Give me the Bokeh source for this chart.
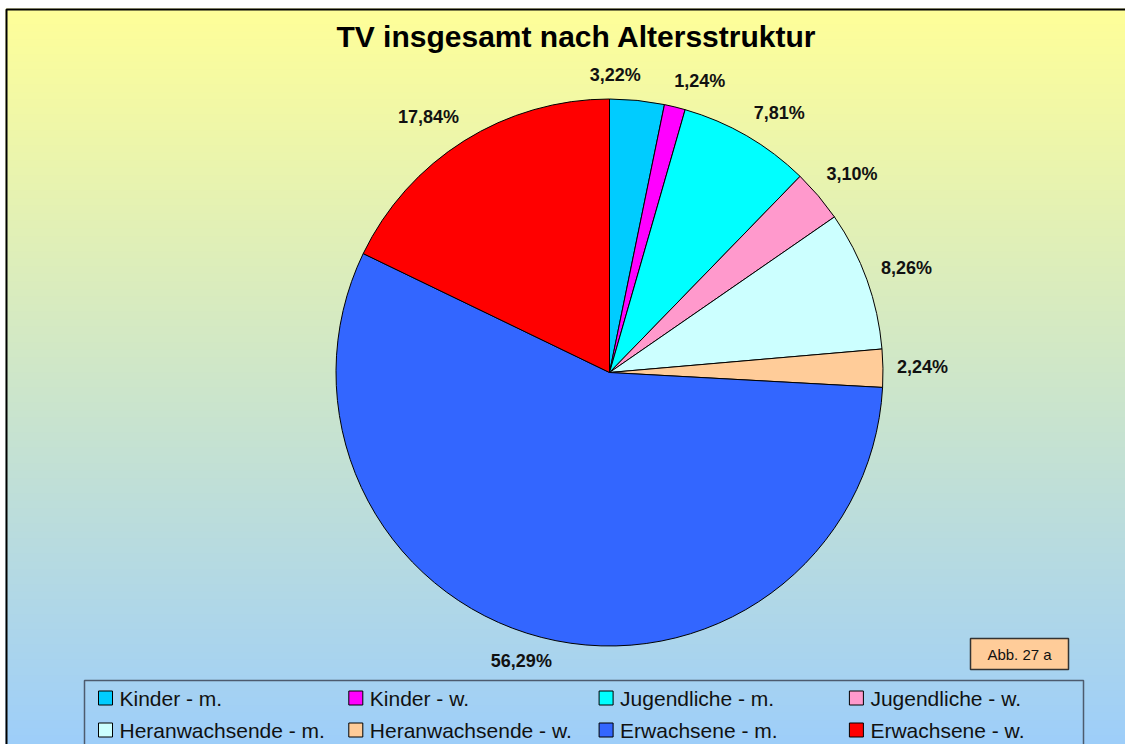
import numpy as np
from bokeh.plotting import figure
from bokeh.models import ColumnDataSource, Range1d
from bokeh.core.properties import value
from bokeh.embed import file_html
from bokeh.resources import INLINE

# ---------------- data ----------------
title = "TV insgesamt nach Altersstruktur"
categories = ["Kinder - m.", "Kinder - w.", "Jugendliche - m.", "Jugendliche - w.",
              "Heranwachsende - m.", "Heranwachsende - w.", "Erwachsene - m.", "Erwachsene - w."]
shares = [3.22, 1.24, 7.81, 3.10, 8.26, 2.24, 56.29, 17.84]
colors = ["#00CCFF", "#FF00FF", "#00FFFF", "#FF99CC",
          "#CCFFFF", "#FFCC99", "#3366FF", "#FF0000"]
note = "Abb. 27 a"

# ---------------- layout / style ----------------
FONT = value("Liberation Sans")
W, H = 1125, 744
def sy(v):  # screen y -> data y
    return H - v

FX, FY = 5, 8   # chart area top-left corner (screen)
cx, cy, R = 609, sy(372), 273.5
label_nudge_deg = [-4.7, 3.5, 3.3, 1.2, 0.7, 0.35, 2.4, -3.4]
label_font_px = 18
label_lift = 2

p = figure(width=W, height=H, x_range=Range1d(0, W), y_range=Range1d(0, H),
           output_backend="svg", toolbar_location=None, min_border=0,
           x_axis_location=None, y_axis_location=None)
p.grid.visible = False
p.outline_line_color = None
p.background_fill_color = "white"
p.border_fill_color = "white"

# background gradient (yellow -> light blue)
top_c = np.array([255, 255, 153], dtype=float)
bot_c = np.array([153, 204, 255], dtype=float)
GH = H - FY
rows = np.arange(GH)
screen_y = FY + (GH - 1 - rows)
t = np.clip((screen_y - FY) / (780 - FY), 0, 1)[:, None]
rgb = top_c * (1 - t) + bot_c * t
img = np.empty((GH, 1), dtype=np.uint32)
view = img.view(dtype=np.uint8).reshape((GH, 1, 4))
view[:, 0, 0] = rgb[:, 0].astype(np.uint8)
view[:, 0, 1] = rgb[:, 1].astype(np.uint8)
view[:, 0, 2] = rgb[:, 2].astype(np.uint8)
view[:, 0, 3] = 255
p.image_rgba(image=[img], x=FX, y=0, dw=W - FX, dh=GH)

# frame (left and top)
p.line(x=[FX + 1, FX + 1, W + 2], y=[0, sy(FY + 1), sy(FY + 1)], line_color="black", line_width=2)

# ---------------- pie ----------------
vals = np.array(shares)
cum = np.concatenate([[0], np.cumsum(vals)]) / vals.sum()
start = np.pi / 2 - 2 * np.pi * cum[:-1]
end = np.pi / 2 - 2 * np.pi * cum[1:]
src = ColumnDataSource(dict(start=start, end=end, color=colors, cat=categories))
p.wedge(x=cx, y=cy, radius=R, start_angle="start", end_angle="end", direction="clock",
        fill_color="color", line_color="black", line_width=1, source=src)

# labels
lbls = [f"{v:.2f}".replace(".", ",") + "%" for v in shares]
mid = (cum[:-1] + cum[1:]) / 2 * 360 + np.array(label_nudge_deg)
th = np.radians(mid)
hw = np.array([0.5 * label_font_px * (0.556 * (len(s) - 2) + 0.278 + 0.889) for s in lbls])
hh = 8
dist = R + 14 + hw * np.abs(np.sin(th)) + hh * np.abs(np.cos(th))
lx = cx + dist * np.sin(th)
ly = cy + dist * np.cos(th) + label_lift
p.text(x=lx, y=ly, text=lbls, text_font=FONT, text_font_style="bold",
       text_font_size=f"{label_font_px}px", text_align="center", text_baseline="middle",
       text_color="#111111")

# title
p.text(x=[576], y=[sy(36)], text=[title], text_font=FONT, text_font_style="bold",
       text_font_size="30px", text_align="center", text_baseline="middle", text_color="black")

# ---------------- legend ----------------
p.quad(left=84, right=1083, top=sy(680), bottom=-20, fill_color=None,
       line_color="#4D5B6E", line_width=1.5)
col_x0, col_pitch = 98, 250.3
row_y = [697.5, 729.5]
sw_x = [col_x0 + (i % 4) * col_pitch for i in range(len(categories))]
sw_y = [sy(row_y[i // 4]) for i in range(len(categories))]
p.rect(x=[x + 7 for x in sw_x], y=sw_y, width=14, height=14, fill_color=colors,
       line_color="black", line_width=1)
p.text(x=[x + 21 for x in sw_x], y=sw_y, text=categories, text_font=FONT,
       text_font_size="21px", text_align="left", text_baseline="middle", text_color="#111111")

# note box
p.quad(left=970, right=1068, top=sy(638), bottom=sy(669), fill_color="#FFCC99",
       line_color="#333333", line_width=1.5)
p.text(x=[1019], y=[sy(653.5)], text=[note], text_font=FONT, text_font_size="15px",
       text_align="center", text_baseline="middle", text_color="#111111")

open("out.html", "w").write(file_html(p, INLINE))
